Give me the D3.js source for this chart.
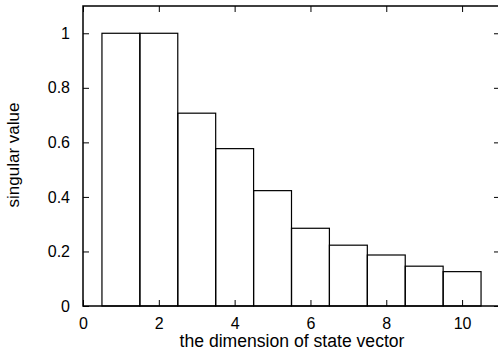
<!DOCTYPE html>
<html>
<head>
<meta charset="utf-8">
<script src="https://cdn.jsdelivr.net/npm/d3@7.9.0/dist/d3.min.js"></script>
<style>
  body { margin: 0; background: #fff; }
  text { font-family: "Liberation Sans", Arial, sans-serif; fill: #000; }
</style>
</head>
<body>
<svg width="498" height="353"></svg>
<script>
// singular values per dimension
const dims = [1, 2, 3, 4, 5, 6, 7, 8, 9, 10];
const values = [1.0, 1.0, 0.707, 0.577, 0.423, 0.285, 0.223, 0.187, 0.146, 0.126];
const xTicks = [0, 2, 4, 6, 8, 10];
const yTicks = [0, 0.2, 0.4, 0.6, 0.8, 1];

const svg = d3.select('svg');
const margin = { left: 83, top: 6, right: -2, bottom: 47 };
const w = 498 - margin.left - margin.right;
const h = 353 - margin.top - margin.bottom;

const x = d3.scaleLinear().domain([0, 11]).range([0, w]);
const y = d3.scaleLinear().domain([0, 1.1]).range([h, 0]);

const g = svg.append('g').attr('transform', `translate(${margin.left},${margin.top})`);

// bars
g.selectAll('rect.bar')
  .data(dims)
  .join('rect')
  .attr('class', 'bar')
  .attr('x', (d) => x(d - 0.5))
  .attr('width', (d) => x(d + 0.5) - x(d - 0.5))
  .attr('y', (d, i) => y(values[i]))
  .attr('height', (d, i) => y(0) - y(values[i]))
  .attr('fill', 'none')
  .attr('stroke', '#000')
  .attr('stroke-width', 1.2);

// axes with inward ticks
const fmt = (d) => d3.format('')(d);
const axBottom = g.append('g').attr('transform', `translate(0,${h})`)
  .call(d3.axisBottom(x).tickValues(xTicks).tickSize(-6).tickPadding(12).tickFormat(fmt));
const axTop = g.append('g')
  .call(d3.axisTop(x).tickValues(xTicks).tickSize(-6).tickFormat(''));
const axLeft = g.append('g')
  .call(d3.axisLeft(y).tickValues(yTicks).tickSize(-6).tickPadding(13).tickFormat(fmt));
const axRight = g.append('g').attr('transform', `translate(${w},0)`)
  .call(d3.axisRight(y).tickValues(yTicks).tickSize(-6).tickFormat(''));

[axBottom, axTop, axLeft, axRight].forEach((a) => {
  a.select('.domain').remove();
  a.attr('font-family', null).attr('font-size', null);
  a.selectAll('line').attr('stroke', '#000').attr('stroke-width', 1);
  a.selectAll('text').style('font-size', '16px');
});

// frame
g.append('rect')
  .attr('x', 0).attr('y', 0).attr('width', w).attr('height', h)
  .attr('fill', 'none').attr('stroke', '#000').attr('stroke-width', 1.5);

// labels
svg.append('text')
  .attr('x', 292).attr('y', 347)
  .attr('text-anchor', 'middle')
  .style('font-size', '17.6px')
  .text('the dimension of state vector');

svg.append('text')
  .attr('transform', 'translate(19,155) rotate(-90)')
  .attr('text-anchor', 'middle')
  .style('font-size', '17px')
  .text('singular value');
</script>
</body>
</html>
